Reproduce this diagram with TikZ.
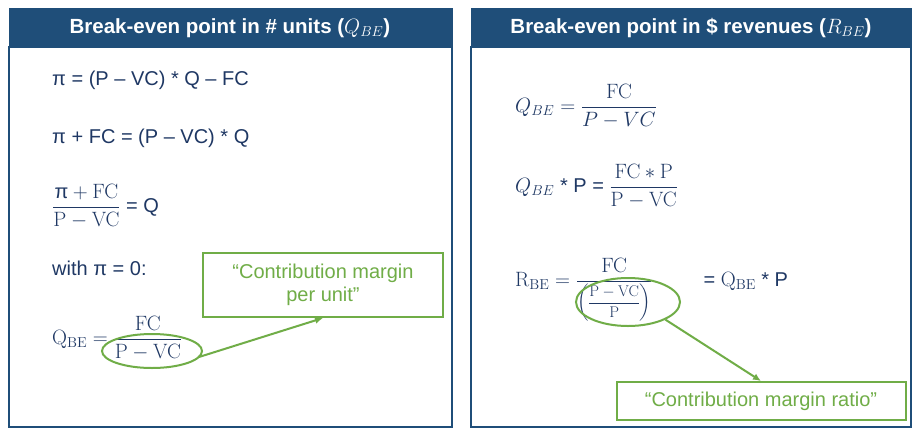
\documentclass[tikz,border=0pt]{standalone}
\usepackage{amsmath}
\usepackage{graphicx}
\usepackage[no-math]{fontspec}
\setmainfont{Liberation Sans}
\definecolor{hdr}{HTML}{1F4E79}
\definecolor{txt}{HTML}{1F3864}
\definecolor{grn}{HTML}{70AD47}
\tikzset{
 panel/.style={draw=hdr,line width=1.5pt},
 head/.style={fill=hdr,draw=hdr},
 htext/.style={text=white,font=\fontsize{20.5}{24}\selectfont\bfseries},
 eq/.style={text=txt,anchor=west,font=\fontsize{20}{24}\selectfont,inner sep=0},
 note/.style={draw=grn,line width=2pt,text=grn,font=\fontsize{20}{23}\selectfont,align=center},
 ring/.style={draw=grn,line width=2pt,ellipse},
 link/.style={draw=grn,line width=2pt,-{Latex[length=8pt,width=7pt]}}
}
\usetikzlibrary{shapes.geometric,arrows.meta}
\begin{document}
\begin{tikzpicture}[x=1pt,y=-1pt]
\useasboundingbox (0,0) rectangle (913,429);
\fill[white] (0,0) rectangle (913,429);
% left panel
\draw[panel] (9,47) rectangle (452,427);
\draw[head] (9,8) rectangle (452,47);
\node[htext] (h1) at (230,28) {Break-even point in \# units ($Q_{BE}$)};
% right panel
\draw[panel] (471,47) rectangle (911,427);
\draw[head] (471,8) rectangle (911,47);
\node[htext] (h2) at (691,28) {Break-even point in \$ revenues ($R_{BE}$)};
% left equations
\node[eq] (l1) at (52,80) {π = (P – VC) * Q – FC};
\node[eq] (l2) at (52,138) {π + FC = (P – VC) * Q};
\node[eq] (l3) at (52,206) {$\dfrac{\text{π} + \mathrm{FC}}{\mathrm{P} - \mathrm{VC}}$ = Q};
\node[eq] (l4) at (52,268) {with π = 0:};
\node[eq] (l5) at (52,338) {$\mathrm{Q_{BE}} = \dfrac{\mathrm{FC}}{\mathrm{P} - \mathrm{VC}}$};
\node[ring,minimum width=100,minimum height=34] (e1) at (152,351) {};
\node[note,minimum width=240,minimum height=64] (n1) at (323,285) {“Contribution margin\\per unit”};
\draw[link] (e1.east) ++(-4,6) coordinate (s1) (s1) -- (n1.south);
% right equations
\node[eq] (r1) at (515,106) {$Q_{BE} = \dfrac{\mathrm{FC}}{P - VC}$};
\node[eq] (r2) at (515,186) {$Q_{BE}$ * P = $\dfrac{\mathrm{FC} * \mathrm{P}}{\mathrm{P} - \mathrm{VC}}$};
\node[eq] (r3) at (515,290) {$\mathrm{R_{BE}} = \dfrac{\mathrm{FC}}{\scalebox{0.75}{$\left(\dfrac{\mathrm{P} - \mathrm{VC}}{\mathrm{P}}\right)$}}$\quad\quad\ \ = $\mathrm{Q_{BE}}$ * P};
\node[ring,minimum width=104,minimum height=48] (e2) at (628,302) {};
\node[note,minimum width=289,minimum height=38] (n2) at (761,401) {“Contribution margin ratio”};
\draw[link] (e2.south east) -- (n2.north);
\end{tikzpicture}
\end{document}
